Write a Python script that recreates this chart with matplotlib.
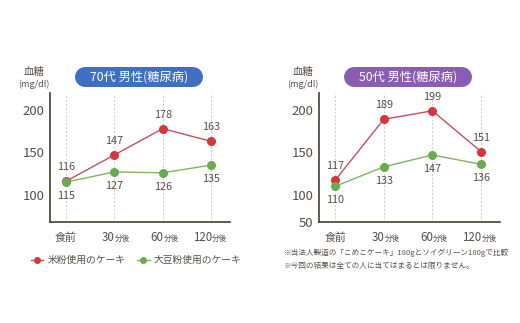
import matplotlib
matplotlib.use("Agg")
import matplotlib.pyplot as plt
import numpy as np
from matplotlib.lines import Line2D
from matplotlib.transforms import offset_copy

plt.rcParams['font.family'] = ['Noto Sans CJK JP', 'DejaVu Sans']

times = ["食前", "30", "60", "120"]
titles = ["70代 男性(糖尿病)", "50代 男性(糖尿病)"]
rice_70 = [116, 147, 178, 163]
soy_70 = [115, 127, 126, 135]
rice_50 = [117, 189, 199, 151]
soy_50 = [110, 133, 147, 136]
yticks_70 = [100, 150, 200]
yticks_50 = [50, 100, 150, 200]
legend_labels = ["米粉使用のケーキ", "大豆粉使用のケーキ"]
notes = ["※当法人製造の「こめこケーキ」180gとソイグリーン180gで比較",
         "※今回の結果は全ての人に当てはまるとは限りません。"]

RED = "#d8343c"
RED_LINE = "#c4505c"
GREEN = "#6aab4c"
GREEN_LINE = "#7fb565"
TXT = "#5a4e46"
AXC = "#4a3c30"

W, H = 520, 323
fig = plt.figure(figsize=(W / 100, H / 100), dpi=100)
fig.patch.set_facecolor("white")


# below 100 the axis is compressed (broken scale)
def fwd(v):
    v = np.asarray(v, dtype=float)
    return np.where(v < 100, 100 - (100 - v) * 0.64, v)


def inv(v):
    v = np.asarray(v, dtype=float)
    return np.where(v < 100, 100 - (100 - v) / 0.64, v)


def px(x0, y0, w, h):
    return [x0 / W, 1 - (y0 + h) / H, w / W, h / H]


def draw_panel(ax, rice, soy, yticks, title, pill_x, pill_color, ylab_x):
    x = np.arange(len(times))
    ax.set_yscale("function", functions=(fwd, inv))
    ax.set_ylim(50, 220)
    ax.set_xlim(-0.33, 3.39)
    for xi in x:
        ax.axvline(xi, color="#c8c8c8", lw=0.7, ls=(0, (2, 2)), zorder=0)
    ax.plot(x, rice, color=RED_LINE, lw=1.0, zorder=2)
    ax.plot(x, soy, color=GREEN_LINE, lw=1.0, zorder=2)
    ax.plot(x, rice, "o", color=RED, ms=6.5, mec="none", zorder=3)
    ax.plot(x, soy, "o", color=GREEN, ms=6.5, mec="none", zorder=3)
    for xi, v in zip(x, rice):
        ax.annotate(str(v), (xi, v), xytext=(0, 6.5), textcoords="offset points",
                    ha="center", va="bottom", fontsize=7.8, color=TXT)
    for xi, v in zip(x, soy):
        ax.annotate(str(v), (xi, v), xytext=(0, -6.5), textcoords="offset points",
                    ha="center", va="top", fontsize=7.8, color=TXT)

    for s in ["top", "right"]:
        ax.spines[s].set_visible(False)
    for s in ["left", "bottom"]:
        ax.spines[s].set_color(AXC)
        ax.spines[s].set_linewidth(1.2)
    ax.set_yticks(yticks)
    ax.set_yticklabels([str(t) for t in yticks], fontsize=9.5, color=TXT)
    ax.tick_params(axis="y", length=0, pad=4)
    ax.set_xticks([])

    # time labels, "分後" drawn smaller on the same baseline
    trans = ax.get_xaxis_transform()
    shifted = offset_copy(trans, fig, x=0.5, units="points")
    base = -0.145
    for xi, t in zip(x, times):
        if t == "食前":
            ax.text(xi, base, t, transform=trans, ha="center", va="baseline",
                    fontsize=7.8, color=TXT)
        else:
            ax.text(xi, base, t, transform=shifted, ha="right", va="baseline",
                    fontsize=8.3, color=TXT)
            ax.text(xi, base, "分後", transform=shifted, ha="left", va="baseline",
                    fontsize=5.5, color=TXT)

    # unit label
    fig.text(ylab_x / W, 1 - 72 / H, "血糖", ha="center", va="center", fontsize=7.5, color=TXT)
    fig.text(ylab_x / W, 1 - 84 / H, "(mg/dl)", ha="center", va="center", fontsize=6.5, color=TXT)

    # title pill: a thick line with round caps, 20 px tall
    yc = 1 - 77 / H
    fig.add_artist(Line2D([(pill_x + 10) / W, (pill_x + 118) / W], [yc, yc],
                          transform=fig.transFigure, color=pill_color, lw=20 * 0.72,
                          solid_capstyle="round"))
    fig.text((pill_x + 64) / W, 1 - 77.5 / H, title, ha="center", va="center",
             fontsize=8.8, color="white", zorder=5)


ax1 = fig.add_axes(px(50, 93, 180, 129))
draw_panel(ax1, rice_70, soy_70, yticks_70, titles[0], 75, "#3d6fc6", 34)

ax2 = fig.add_axes(px(319, 93, 181, 129))
draw_panel(ax2, rice_50, soy_50, yticks_50, titles[1], 344, "#8a5cb4", 303)

handles = [Line2D([], [], color=RED_LINE, lw=1.0, marker="o", ms=5, mfc=RED, mec="none"),
           Line2D([], [], color=GREEN_LINE, lw=1.0, marker="o", ms=5, mfc=GREEN, mec="none")]
leg = fig.legend(handles, legend_labels, loc="center", bbox_to_anchor=(136 / W, 1 - 260 / H),
                 ncol=2, frameon=False, fontsize=7, handlelength=1.3, handletextpad=0.4,
                 columnspacing=1.2)
for t in leg.get_texts():
    t.set_color(TXT)

fig.text(284 / W, 1 - 253 / H, notes[0], ha="left", va="center", fontsize=5.5, color=TXT)
fig.text(284 / W, 1 - 266 / H, notes[1], ha="left", va="center", fontsize=5.5, color=TXT)

fig.savefig("out.png", dpi=100, facecolor="white")
